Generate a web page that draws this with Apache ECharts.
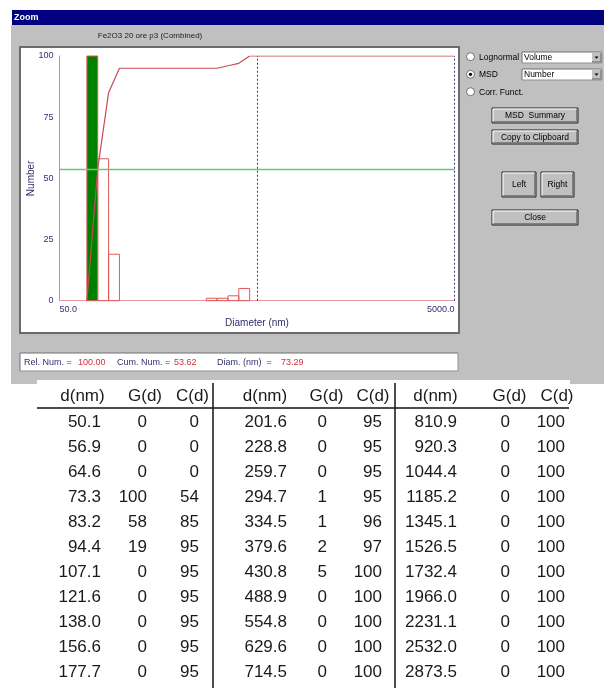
<!DOCTYPE html>
<html>
<head>
<meta charset="utf-8">
<title>Zoom</title>
<script src="https://cdn.jsdelivr.net/npm/echarts@6/dist/echarts.min.js"></script>
<style>
html, body { margin: 0; padding: 0; background: #fff; }
#main { width: 604px; height: 688px; }
</style>
</head>
<body>
<div id="main"></div>
<script>
// 直径 (nm)
var diam = [50.1, 56.9, 64.6, 73.3, 83.2, 94.4, 107.1, 121.6, 138.0, 156.6, 177.7,
    201.6, 228.8, 259.7, 294.7, 334.5, 379.6, 430.8, 488.9, 554.8, 629.6, 714.5,
    810.9, 920.3, 1044.4, 1185.2, 1345.1, 1526.5, 1732.4, 1966.0, 2231.1, 2532.0, 2873.5];
// G(d) 相对数量
var gd = [0, 0, 0, 100, 58, 19, 0, 0, 0, 0, 0,
    0, 0, 0, 1, 1, 2, 5, 0, 0, 0, 0,
    0, 0, 0, 0, 0, 0, 0, 0, 0, 0, 0];
// C(d) 累计
var cd = [0, 0, 0, 54, 85, 95, 95, 95, 95, 95, 95,
    95, 95, 95, 95, 96, 97, 100, 100, 100, 100, 100,
    100, 100, 100, 100, 100, 100, 100, 100, 100, 100, 100];
var tableHeads = ['d(nm)', 'G(d)', 'C(d)'];
var xRange = [50, 5000];
var yRange = [0, 100, 25];
var rangeMarks = [500, 5000];
var cursorDiam = 73.29, cursorRel = 100.00, cursorCum = 53.62;
var sampleName = 'Fe2O3 20 ore p3 (Combined)';
var modeNames = ['Lognormal', 'MSD', 'Corr. Funct.'];
var comboNames = ['Volume', 'Number'];

var FONT = '"Liberation Sans", Arial, sans-serif';
var NAVY = '#30306e';

/**
 * 分档边界 (几何中点)
 */
function binEdges(i) {
    var n = diam.length;
    var lo = i > 0 ? Math.sqrt(diam[i - 1] * diam[i]) : diam[0] * diam[0] / Math.sqrt(diam[0] * diam[1]);
    var hi = i < n - 1 ? Math.sqrt(diam[i] * diam[i + 1]) : diam[i] * diam[i] / Math.sqrt(diam[i - 1] * diam[i]);
    return [lo, hi];
}

// 光标所在分档
var selIdx = 0;
diam.forEach(function(d, i) {
    if (Math.abs(d - cursorDiam) < Math.abs(diam[selIdx] - cursorDiam)) selIdx = i;
});

var binData = [];
gd.forEach(function(g, i) {
    if (g > 0) {
        var e = binEdges(i);
        binData.push([e[0], e[1], g, i === selIdx ? 1 : 0]);
    }
});

var firstIdx = gd.findIndex(function(g) { return g > 0; });
var cumData = [];
for (var i = Math.max(firstIdx - 1, 0); i < diam.length; i++) {
    cumData.push([binEdges(i)[1], cd[i]]);
}
cumData.push([xRange[1], cd[cd.length - 1]]);

/**
 * 界面元素
 */
function rect(x, y, w, h, fill, stroke, lw, z) {
    return { type: 'rect', z: z, shape: { x: x, y: y, width: w, height: h },
        style: { fill: fill, stroke: stroke || null, lineWidth: lw || 0 } };
}
function poly(points, color, z) {
    return { type: 'polyline', z: z, shape: { points: points }, style: { stroke: color, fill: 'none', lineWidth: 1 } };
}
function text(x, y, s, size, color, align, z, weight) {
    return { type: 'text', z: z, x: x, y: y, style: { text: s, fill: color,
        font: (weight || 'normal') + ' ' + size + 'px ' + FONT, align: align || 'left', verticalAlign: 'middle' } };
}
function button(x, y, w, h, label) {
    return [
        rect(x, y, w, h, '#c0c0c0', '#202020', 1, -6),
        poly([[x + 1, y + h - 1.5], [x + 1, y + 1], [x + w - 1.5, y + 1]], '#ffffff', -5),
        poly([[x + 1.5, y + h - 1.5], [x + w - 1.5, y + h - 1.5], [x + w - 1.5, y + 1.5]], '#808080', -5),
        text(x + w / 2, y + h / 2 + 0.5, label, 8.5, '#000', 'center', -4)
    ];
}
function sunken(x, y, w, h, z) {
    return [
        rect(x, y, w, h, '#ffffff', null, 0, z),
        poly([[x, y + h], [x, y], [x + w, y]], '#707070', z + 0.5),
        poly([[x + w, y], [x + w, y + h], [x, y + h]], '#909090', z + 0.5)
    ];
}

var g = [];
// 对话框
g.push(rect(11, 25, 593, 359, '#c0c0c0', null, 0, -20));
g.push(rect(12, 10, 592, 15, '#000080', null, 0, -19));
g.push(text(14, 17.5, 'Zoom', 9, '#fff', 'left', -18, 'bold'));
g.push(text(150, 36, sampleName, 8, '#222', 'center', -18));
// 图区
g.push(rect(20, 47, 439, 286, '#ffffff', '#6a6a6a', 2, -15));
// 状态栏
g = g.concat(sunken(20, 353, 438, 18, -15));
g.push(text(24, 362.5, 'Rel. Num. =', 9, NAVY, 'left', -10));
g.push(text(78, 362.5, cursorRel.toFixed(2), 9, '#d0303c', 'left', -10));
g.push(text(117, 362.5, 'Cum. Num. =', 9, NAVY, 'left', -10));
g.push(text(174, 362.5, cursorCum.toFixed(2), 9, '#d0303c', 'left', -10));
g.push(text(217, 362.5, 'Diam. (nm)  =', 9, NAVY, 'left', -10));
g.push(text(281, 362.5, cursorDiam.toFixed(2), 9, '#d0303c', 'left', -10));
// 右侧控件
var radioY = [56.7, 74.3, 91.7];
modeNames.forEach(function(m, k) {
    g.push({ type: 'circle', z: -10, shape: { cx: 470.5, cy: radioY[k], r: 4 },
        style: { fill: '#fff', stroke: '#707070', lineWidth: 1 } });
    if (k === 1) {
        g.push({ type: 'circle', z: -9, shape: { cx: 470.5, cy: radioY[k], r: 1.6 }, style: { fill: '#000' } });
    }
    g.push(text(479, radioY[k] + 0.5, m, 8.5, '#000', 'left', -10));
});
var comboY = [52, 69];
comboNames.forEach(function(c, k) {
    var y = comboY[k];
    g = g.concat(sunken(522, y, 80, 11, -10));
    g.push(text(524, y + 6, c, 8.5, '#000', 'left', -8));
    g.push(rect(592, y + 1, 9, 9, '#c0c0c0', null, 0, -8));
    g.push(poly([[592, y + 10], [601, y + 10], [601, y + 1]], '#606060', -7));
    g.push({ type: 'polygon', z: -7, shape: { points: [[594.5, y + 4.5], [598.5, y + 4.5], [596.5, y + 6.8]] }, style: { fill: '#000' } });
});
g = g.concat(button(492, 108, 86, 15, 'MSD  Summary'));
g = g.concat(button(492, 130, 86, 14, 'Copy to Clipboard'));
g = g.concat(button(502, 172, 34, 25, 'Left'));
g = g.concat(button(541, 172, 33, 25, 'Right'));
g = g.concat(button(492, 210, 86, 15, 'Close'));

// 数据表
g.push(rect(37, 380, 533, 308, '#ffffff', null, 0, -14));
var colRight = [[101, 147, 199], [287, 327, 382], [457, 510, 565]];
var headCenter = [[82.5, 145, 192.5], [265, 326.5, 373], [435.5, 509.5, 557]];
var rowsPerBlock = 11;
headCenter.forEach(function(cols, b) {
    cols.forEach(function(x, c) {
        g.push(text(x, 396, tableHeads[c], 17, '#1a1a1a', 'center', 5));
    });
});
diam.forEach(function(d, i) {
    var b = Math.floor(i / rowsPerBlock), r = i % rowsPerBlock;
    var y = 422 + r * 25;
    g.push(text(colRight[b][0], y, d.toFixed(1), 17, '#1a1a1a', 'right', 5));
    g.push(text(colRight[b][1], y, String(gd[i]), 17, '#1a1a1a', 'right', 5));
    g.push(text(colRight[b][2], y, String(cd[i]), 17, '#1a1a1a', 'right', 5));
});
g.push({ type: 'line', z: 5, shape: { x1: 37, y1: 408, x2: 569, y2: 408 }, style: { stroke: '#111', lineWidth: 1.5 } });
[213, 395].forEach(function(x) {
    g.push({ type: 'line', z: 5, shape: { x1: x, y1: 383, x2: x, y2: 688 }, style: { stroke: '#111', lineWidth: 1.5 } });
});

function isEnd(v) {
    return Math.abs(v / xRange[0] - 1) < 1e-6 || Math.abs(v / xRange[1] - 1) < 1e-6;
}

var option = {
    backgroundColor: '#ffffff',
    animation: false,
    grid: { left: 59.5, right: 149.5, top: 56, bottom: 387.3 },
    xAxis: {
        type: 'log',
        logBase: 10,
        min: xRange[0],
        max: xRange[1],
        name: 'Diameter (nm)',
        nameLocation: 'middle',
        nameGap: 18,
        nameMoveOverlap: false,
        nameTextStyle: { fontSize: 10, color: NAVY, fontFamily: FONT },
        axisLine: { lineStyle: { color: '#e89aa2', width: 1 } },
        axisTick: { show: false },
        splitLine: { show: false },
        minorSplitLine: { show: false },
        axisLabel: {
            showMinLabel: true,
            showMaxLabel: true,
            alignMinLabel: 'left',
            alignMaxLabel: 'right',
            margin: 4,
            fontSize: 9,
            color: NAVY,
            fontFamily: FONT,
            formatter: function(v) { return isEnd(v) ? v.toFixed(1) : ''; }
        }
    },
    yAxis: {
        type: 'value',
        min: yRange[0],
        max: yRange[1],
        interval: yRange[2],
        name: 'Number',
        nameLocation: 'middle',
        nameGap: 23,
        nameMoveOverlap: false,
        nameTextStyle: { fontSize: 10, color: NAVY, fontFamily: FONT },
        axisLine: { show: true, lineStyle: { color: '#9a9acc', width: 1 } },
        axisTick: { show: false },
        splitLine: { show: false },
        axisLabel: { fontSize: 9, color: NAVY, fontFamily: FONT, margin: 6 }
    },
    series: [{
        type: 'custom',
        data: binData,
        encode: { x: [0, 1], y: 2 },
        silent: true,
        renderItem: function(params, api) {
            var p0 = api.coord([api.value(0), 0]);
            var p1 = api.coord([api.value(1), api.value(2)]);
            var sel = api.value(3) === 1;
            return {
                type: 'rect',
                shape: { x: p0[0], y: p1[1], width: p1[0] - p0[0], height: p0[1] - p1[1] },
                style: { fill: sel ? '#008000' : 'none', stroke: '#e05a5a', lineWidth: 1 }
            };
        },
        // 当前累计水平线
        markLine: {
            silent: true,
            symbol: 'none',
            label: { show: false },
            lineStyle: { color: '#6cc86c', width: 1.3, type: 'solid', opacity: 1 },
            emphasis: { disabled: true },
            data: [{ yAxis: cursorCum }]
        }
    }, {
        type: 'line',
        data: cumData,
        symbol: 'none',
        silent: true,
        lineStyle: { color: '#c84a58', width: 1.2 },
        // 范围标记
        markLine: {
            silent: true,
            symbol: 'none',
            label: { show: false },
            lineStyle: { color: '#3a3a72', width: 1, type: [2, 2], opacity: 1 },
            emphasis: { disabled: true },
            data: [{ xAxis: rangeMarks[0] }, { xAxis: rangeMarks[1] }]
        }
    }],
    graphic: { elements: g }
};

var chart = echarts.init(document.getElementById('main'));
chart.setOption(option);
</script>
</body>
</html>
